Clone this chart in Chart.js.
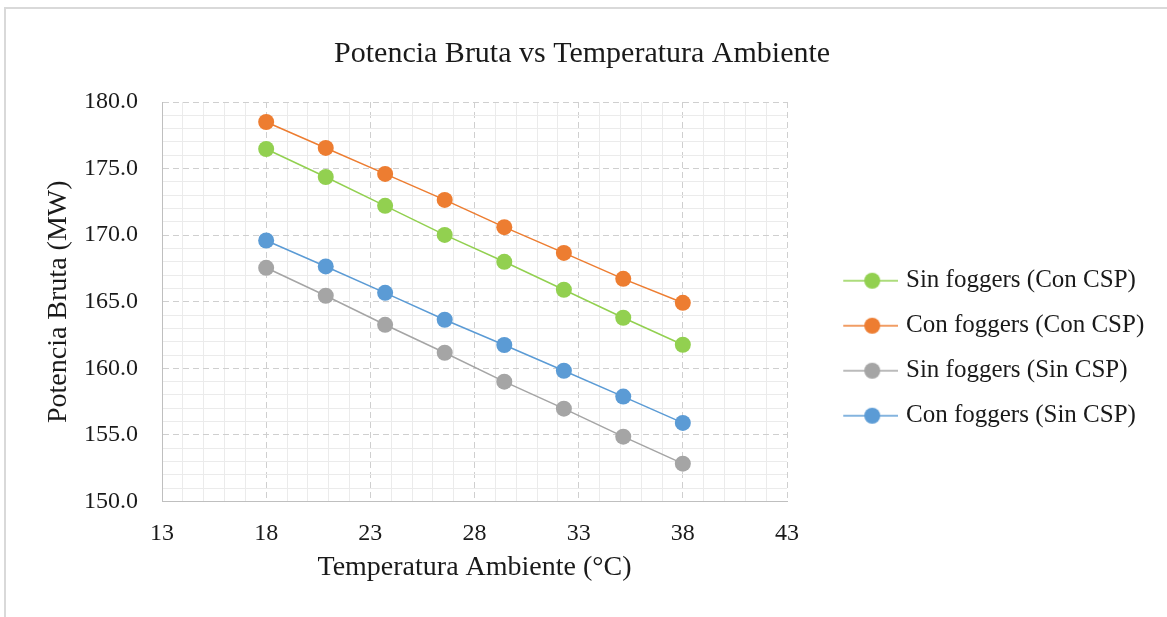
<!DOCTYPE html>
<html>
<head>
<meta charset="utf-8">
<script src="https://cdn.jsdelivr.net/npm/chart.js@4/dist/chart.umd.min.js"></script>
<style>
  html, body { margin: 0; padding: 0; background: #fff; }
  #wrap { position: relative; width: 1167px; height: 617px; overflow: hidden; }
  #frame { position: absolute; left: 4px; top: 7px; right: -10px; bottom: -10px;
           border-left: 2px solid #d9d9d9; border-top: 2px solid #d9d9d9; pointer-events: none; }
  canvas { position: absolute; left: 0; top: 0; }
</style>
</head>
<body>
<div id="wrap">
  <canvas id="c" width="1167" height="617"></canvas>
  <div id="frame"></div>
</div>
<script>
// ---- data ----
const temperatures = [18, 20.86, 23.71, 26.57, 29.43, 32.29, 35.14, 38];
const sinFoggersConCSP = [176.47, 174.37, 172.2, 170.02, 168.0, 165.9, 163.8, 161.77];
const conFoggersConCSP = [178.5, 176.55, 174.6, 172.65, 170.6, 168.67, 166.72, 164.92];
const sinFoggersSinCSP = [167.55, 165.45, 163.27, 161.17, 159.0, 156.97, 154.87, 152.84];
const conFoggersSinCSP = [169.6, 167.65, 165.67, 163.65, 161.75, 159.82, 157.88, 155.9];
const seriesNames = ['Sin foggers (Con CSP)', 'Con foggers (Con CSP)', 'Sin foggers (Sin CSP)', 'Con foggers (Sin CSP)'];
const seriesColors = ['#92d050', '#ed7d31', '#a5a5a5', '#5b9bd5'];
const xTickLabels = [13, 18, 23, 28, 33, 38, 43];
const yTickLabels = [150, 155, 160, 165, 170, 175, 180];
const chartTitle = 'Potencia Bruta vs Temperatura Ambiente';
const xTitle = 'Temperatura Ambiente (°C)';
const yTitle = 'Potencia Bruta (MW)';

const FONT = "'Liberation Serif', 'Times New Roman', serif";
const TEXT = '#1a1a1a';
const PLOT_RIGHT = 787;

const seriesValues = [sinFoggersConCSP, conFoggersConCSP, sinFoggersSinCSP, conFoggersSinCSP];

function legendSymbol(color) {
  const cv = document.createElement('canvas');
  cv.width = 96; cv.height = 20;
  const g = cv.getContext('2d');
  g.strokeStyle = color; g.lineWidth = 1.5;
  g.beginPath(); g.moveTo(41, 10); g.lineTo(96, 10); g.stroke();
  g.fillStyle = color;
  g.beginPath(); g.arc(70, 10, 8, 0, Math.PI * 2); g.fill();
  return cv;
}
const symbols = seriesColors.map(legendSymbol);

const datasets = seriesValues.map((vals, i) => ({
  label: seriesNames[i],
  data: temperatures.map((t, j) => ({ x: t, y: vals[j] })),
  showLine: true,
  borderColor: seriesColors[i],
  backgroundColor: seriesColors[i],
  borderWidth: 1.5,
  pointRadius: 8,
  pointHoverRadius: 8,
  pointBorderWidth: 0,
  pointBackgroundColor: seriesColors[i]
}));

const isMajorX = v => xTickLabels.includes(v);
const isMajorY = v => yTickLabels.includes(v);

const chart = new Chart(document.getElementById('c'), {
  type: 'scatter',
  data: { datasets },
  options: {
    responsive: false,
    animation: false,
    events: [],
    layout: { padding: { left: 10, top: 10, right: 20, bottom: 20 } },
    plugins: {
      tooltip: { enabled: false },
      title: {
        display: true, text: chartTitle, color: TEXT,
        font: { family: FONT, size: 30, weight: 'normal' },
        padding: { top: 26, bottom: 30 }
      },
      legend: {
        position: 'right',
        align: 'center',
        maxWidth: 600,
        title: { display: true, text: ' ', font: { size: 12 }, padding: { top: 37.5, bottom: 37.6 } },
        labels: {
          color: TEXT,
          font: { family: FONT, size: 25 },
          usePointStyle: true,
          pointStyleWidth: 86.5,
          padding: 20,
          generateLabels: (ch) => {
            const items = Chart.defaults.plugins.legend.labels.generateLabels(ch);
            items.forEach(it => { it.pointStyle = symbols[it.datasetIndex]; });
            return items;
          }
        }
      }
    },
    scales: {
      x: {
        type: 'linear',
        min: 13, max: 43,
        ticks: {
          stepSize: 1, autoSkip: false, maxRotation: 0, padding: 18,
          color: TEXT, font: { family: FONT, size: 24 },
          callback: v => isMajorX(v) ? String(v) : ''
        },
        grid: {
          drawTicks: false,
          lineWidth: 1,
          color: ctx => (ctx.tick && isMajorX(ctx.tick.value)) ? '#cfcfcf' : '#ebebeb'
        },
        border: {
          display: true, color: '#bfbfbf', width: 1,
          dash: ctx => (ctx.tick && isMajorX(ctx.tick.value)) ? [6, 4] : []
        },
        title: {
          display: true, text: xTitle, color: TEXT,
          font: { family: FONT, size: 28 },
          padding: { top: -15.6, bottom: 12.7 }
        }
      },
      y: {
        type: 'linear',
        min: 150, max: 180,
        ticks: {
          stepSize: 1, autoSkip: false, padding: 24,
          color: TEXT, font: { family: FONT, size: 24 },
          callback: v => isMajorY(v) ? v.toFixed(1) : ''
        },
        grid: {
          drawTicks: false,
          lineWidth: 1,
          color: ctx => (ctx.tick && isMajorY(ctx.tick.value)) ? '#cfcfcf' : '#ebebeb'
        },
        border: {
          display: true, color: '#bfbfbf', width: 1,
          dash: ctx => (ctx.tick && isMajorY(ctx.tick.value)) ? [6, 4] : []
        },
        title: {
          display: true, text: yTitle, color: TEXT,
          font: { family: FONT, size: 28 },
          padding: { top: 32.2, bottom: -15.8 }
        }
      }
    }
  }
});

// fine-tune the right padding so the plot area ends where the reference's does
for (let k = 0; k < 3; k++) {
  const diff = chart.chartArea.right - PLOT_RIGHT;
  if (Math.abs(diff) < 0.5) break;
  chart.options.layout.padding.right += diff;
  chart.update('none');
}
</script>
</body>
</html>
